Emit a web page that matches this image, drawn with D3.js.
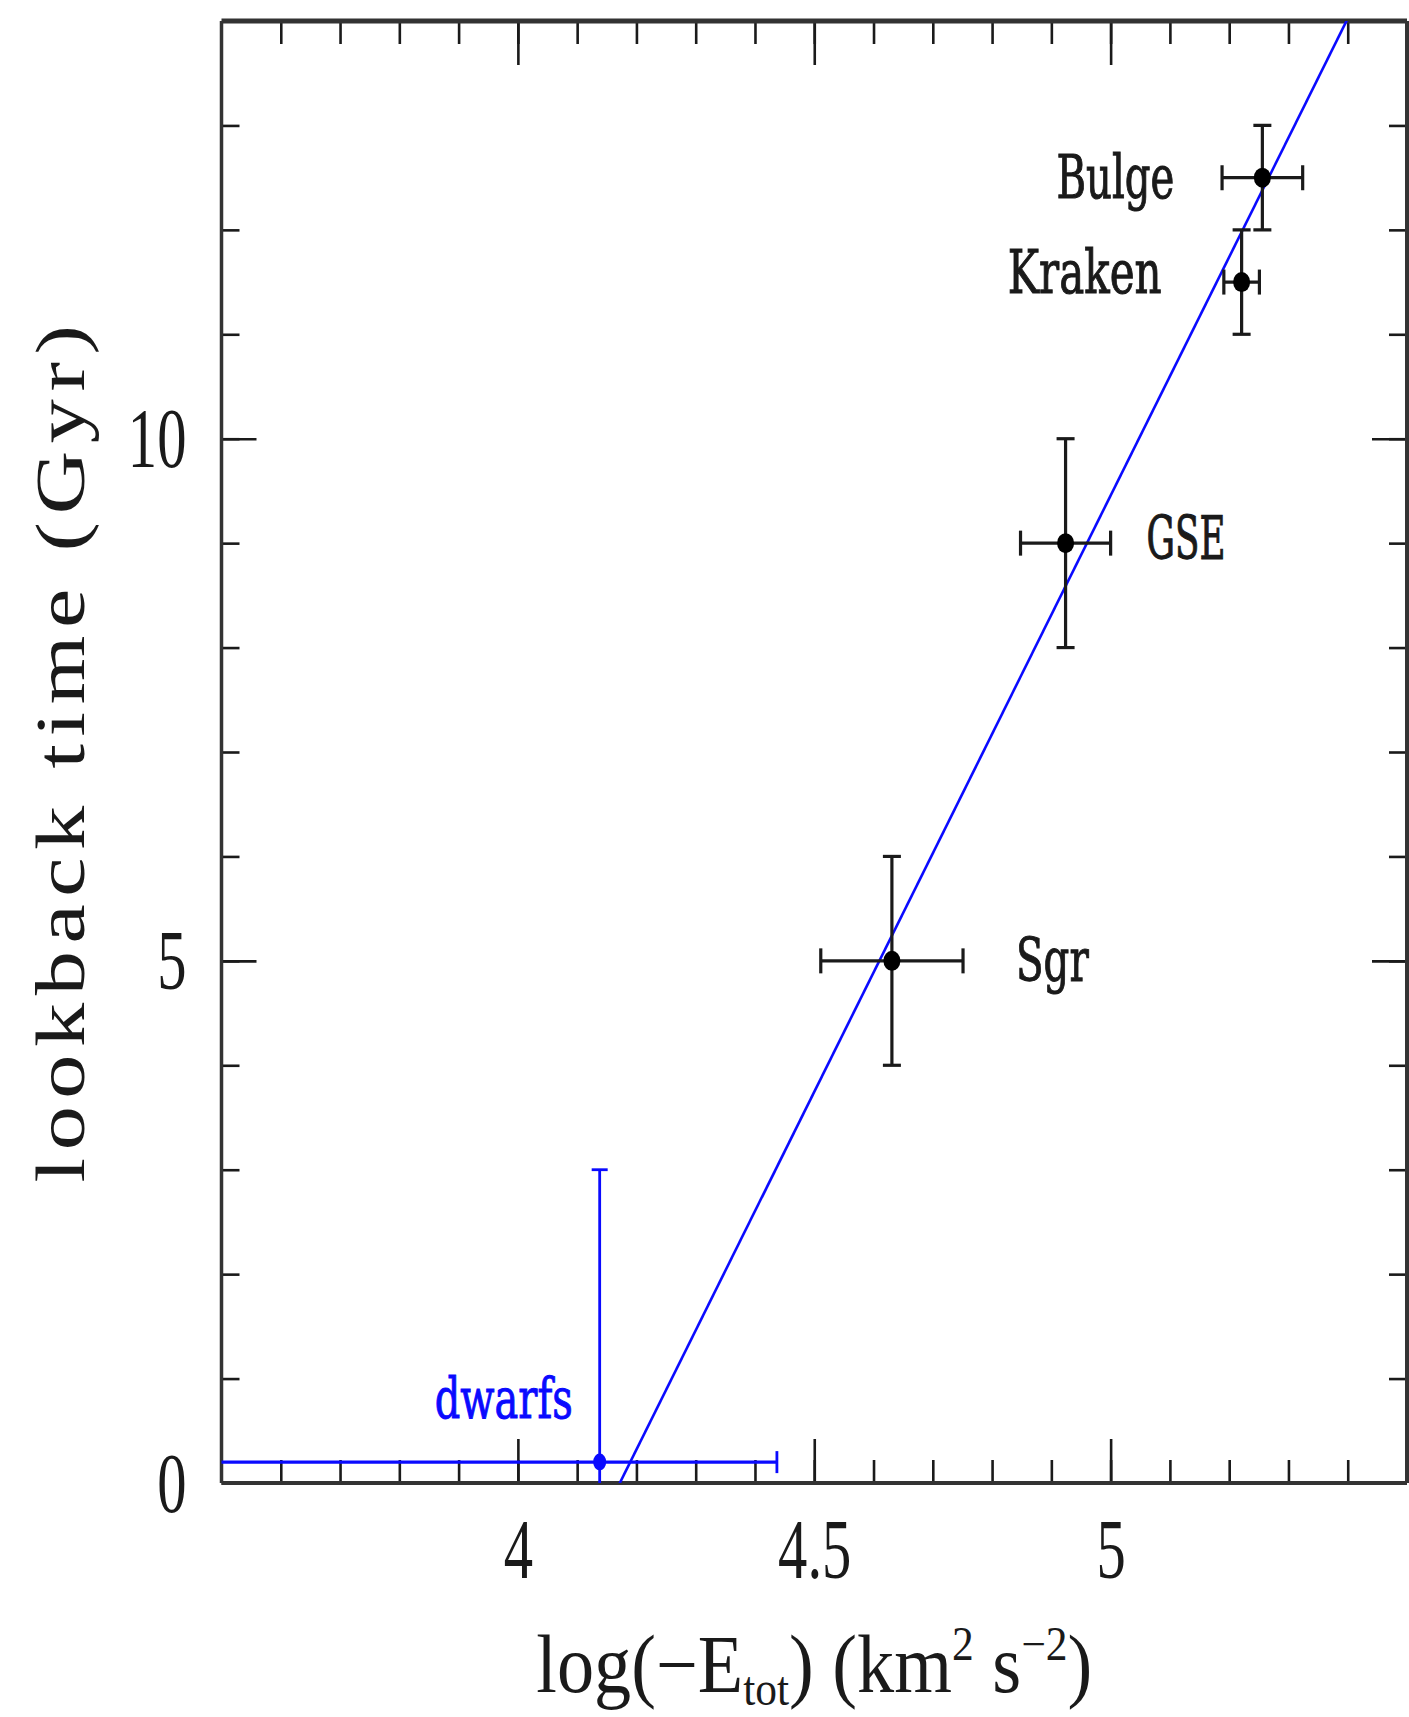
<!DOCTYPE html>
<html>
<head>
<meta charset="utf-8">
<script src="https://cdn.jsdelivr.net/npm/d3@7"></script>
<style>
  html, body { margin: 0; padding: 0; background: #fff; }
  svg { display: block; }
</style>
</head>
<body>
<svg id="chart" width="1409" height="1717"></svg>
<script>
// Accreted systems: orbital energy against lookback time of accretion
const systems      = ["Bulge", "Kraken", "GSE", "Sgr"];
const logEnergy    = [5.256, 5.221, 4.924, 4.631];
const logEnergyErr = [0.068, 0.030, 0.076, 0.120];
const lookback     = [12.5, 11.5, 9.0, 5.0];
const lookbackErr  = [0.5, 0.5, 1.0, 1.0];

// Present-day dwarf galaxies (asymmetric ranges)
const dwarfLabel         = "dwarfs";
const dwarfLogE          = 4.138;
const dwarfLogERange     = [3.30, 4.437];
const dwarfLookback      = 0.2;
const dwarfLookbackRange = [0.0, 3.0];

// Linear relation: lookback = slope * (logE - zeroPoint)
const fitSlope     = 11.42;
const fitZeroPoint = 4.172;

// Axis ticks
const xMajorTicks  = [4, 4.5, 5];
const xTickLabels  = ["4", "4.5", "5"];
const xMinorTicks  = d3.range(36, 55).map(v => v / 10);
const yMajorTicks  = [0, 5, 10];
const yTickLabels  = ["0", "5", "10"];
const yMinorTicks  = d3.range(1, 14);

const svg = d3.select("#chart");
const pL = 221.5, pR = 1407, pT = 21, pB = 1483;

const x = d3.scaleLinear().domain([3.5, 5.5]).range([pL, pR]);
const y = d3.scaleLinear().domain([0, 14]).range([pB, pT]);

const INK = "#1a1a1a";
const BLUE = "#0a0aff";
const tickFont = "'Liberation Serif', 'Times New Roman', serif";
const labelFont = "'DejaVu Serif', 'Liberation Serif', serif";

// horizontal squeeze of a text node so that it spans a given width
function fitTo(node, width) {
  const w = node.getBBox().width;
  if (w > 0) d3.select(node).attr("transform", `scale(${width / w},1)`);
}

svg.append("defs").append("clipPath").attr("id", "plot")
  .append("rect").attr("x", pL).attr("y", pT)
  .attr("width", pR - pL).attr("height", pB - pT);

// ---- ticks (inward on all four sides) ----
function styleAxis(g) {
  g.select(".domain").remove();
  g.selectAll(".tick line").attr("stroke", INK).attr("stroke-width", 2.6);
}

svg.append("g").attr("transform", `translate(0,${pB})`)
  .call(d3.axisBottom(x).tickValues(xMinorTicks).tickSize(-23).tickFormat(""))
  .call(styleAxis);
const xLab = svg.append("g").attr("transform", `translate(0,${pB})`)
  .call(d3.axisBottom(x).tickValues(xMajorTicks).tickSize(-44).tickPadding(0)
    .tickFormat((d, i) => xTickLabels[i]))
  .call(styleAxis);
xLab.selectAll(".tick text")
  .attr("y", 95).attr("dy", null)
  .attr("font-family", tickFont).attr("font-size", 85).attr("fill", INK)
  .attr("transform", "scale(0.69,1)");

svg.append("g").attr("transform", `translate(0,${pT})`)
  .call(d3.axisTop(x).tickValues(xMinorTicks).tickSize(-23).tickFormat(""))
  .call(styleAxis);
svg.append("g").attr("transform", `translate(0,${pT})`)
  .call(d3.axisTop(x).tickValues(xMajorTicks).tickSize(-44).tickFormat(""))
  .call(styleAxis);

svg.append("g").attr("transform", `translate(${pL},0)`)
  .call(d3.axisLeft(y).tickValues(yMinorTicks).tickSize(-18).tickFormat(""))
  .call(styleAxis);
const yLab = svg.append("g").attr("transform", `translate(${pL},0)`)
  .call(d3.axisLeft(y).tickValues(yMajorTicks).tickSize(-35).tickPadding(0)
    .tickFormat((d, i) => yTickLabels[i]))
  .call(styleAxis);
yLab.selectAll(".tick text")
  .attr("x", -35 / 0.69).attr("dy", null).attr("y", 28)
  .attr("text-anchor", "end")
  .attr("font-family", tickFont).attr("font-size", 85).attr("fill", INK)
  .attr("transform", "scale(0.69,1)");

svg.append("g").attr("transform", `translate(${pR},0)`)
  .call(d3.axisRight(y).tickValues(yMinorTicks).tickSize(-18).tickFormat(""))
  .call(styleAxis);
svg.append("g").attr("transform", `translate(${pR},0)`)
  .call(d3.axisRight(y).tickValues(yMajorTicks).tickSize(-35).tickFormat(""))
  .call(styleAxis);

// ---- frame ----
const frame = svg.append("g").attr("stroke", "#333").attr("fill", "none");
frame.append("line").attr("x1", pL).attr("x2", pR).attr("y1", pT).attr("y2", pT).attr("stroke-width", 5);
frame.append("line").attr("x1", pL).attr("x2", pR).attr("y1", pB).attr("y2", pB).attr("stroke-width", 4);
frame.append("line").attr("x1", pL).attr("x2", pL).attr("y1", pT).attr("y2", pB).attr("stroke-width", 3.5);
frame.append("line").attr("x1", pR).attr("x2", pR).attr("y1", pT).attr("y2", pB).attr("stroke-width", 4);

// ---- data layer ----
const plot = svg.append("g").attr("clip-path", "url(#plot)");

// linear relation
const fitX = [fitZeroPoint - 0.05, 5.5];
plot.append("path")
  .datum(fitX.map(v => [v, fitSlope * (v - fitZeroPoint)]))
  .attr("d", d3.line().x(d => x(d[0])).y(d => y(d[1])))
  .attr("fill", "none").attr("stroke", BLUE).attr("stroke-width", 2.6);

// accreted systems with error bars
const pts = systems.map((name, i) => ({
  name, x: logEnergy[i], xe: logEnergyErr[i], y: lookback[i], ye: lookbackErr[i]
}));
const capW = 9, capH = 12.5;
const eb = plot.append("g").attr("stroke", INK).attr("stroke-width", 3.2).attr("fill", "none");
pts.forEach(p => {
  const cx = x(p.x), cy = y(p.y);
  const x0 = x(p.x - p.xe), x1 = x(p.x + p.xe), y0 = y(p.y - p.ye), y1 = y(p.y + p.ye);
  eb.append("line").attr("x1", x0).attr("x2", x1).attr("y1", cy).attr("y2", cy);
  eb.append("line").attr("x1", cx).attr("x2", cx).attr("y1", y0).attr("y2", y1);
  eb.append("line").attr("x1", x0).attr("x2", x0).attr("y1", cy - capH).attr("y2", cy + capH);
  eb.append("line").attr("x1", x1).attr("x2", x1).attr("y1", cy - capH).attr("y2", cy + capH);
  eb.append("line").attr("x1", cx - capW).attr("x2", cx + capW).attr("y1", y0).attr("y2", y0);
  eb.append("line").attr("x1", cx - capW).attr("x2", cx + capW).attr("y1", y1).attr("y2", y1);
});
plot.append("g").selectAll("ellipse").data(pts).join("ellipse")
  .attr("cx", d => x(d.x)).attr("cy", d => y(d.y))
  .attr("rx", 8.5).attr("ry", 10).attr("fill", "#000");

// dwarfs
const dw = plot.append("g").attr("stroke", BLUE).attr("stroke-width", 2.8).attr("fill", "none");
const dcx = x(dwarfLogE), dcy = y(dwarfLookback);
dw.append("line").attr("x1", x(dwarfLogERange[0])).attr("x2", x(dwarfLogERange[1]))
  .attr("y1", dcy).attr("y2", dcy).attr("stroke-width", 3.4);
dw.append("line").attr("x1", dcx).attr("x2", dcx)
  .attr("y1", y(dwarfLookbackRange[0])).attr("y2", y(dwarfLookbackRange[1]));
dw.append("line").attr("x1", dcx - 8).attr("x2", dcx + 8)
  .attr("y1", y(dwarfLookbackRange[1])).attr("y2", y(dwarfLookbackRange[1]));
dw.append("line").attr("x1", x(dwarfLogERange[1])).attr("x2", x(dwarfLogERange[1]))
  .attr("y1", dcy - 11).attr("y2", dcy + 11);
plot.append("ellipse").attr("cx", dcx).attr("cy", dcy).attr("rx", 6.5).attr("ry", 8.5).attr("fill", BLUE);

// ---- point labels (offsets in px from each marker) ----
const labelLayout = {
  Bulge:  { dx: -88, dy: 20, anchor: "end",   w: 118 },
  Kraken: { dx: -80, dy: 11, anchor: "end",   w: 154 },
  GSE:    { dx: 81,  dy: 16, anchor: "start", w: 79 },
  Sgr:    { dx: 124, dy: 20, anchor: "start", w: 73 }
};
pts.forEach(p => {
  const L = labelLayout[p.name];
  const g = svg.append("g").attr("transform", `translate(${x(p.x) + L.dx},${y(p.y) + L.dy})`);
  const t = g.append("text").text(p.name)
    .attr("text-anchor", L.anchor)
    .attr("font-family", labelFont).attr("font-size", 60).attr("fill", INK)
    .attr("stroke", INK).attr("stroke-width", 1.1);
  fitTo(t.node(), L.w);
});
{
  const g = svg.append("g").attr("transform", `translate(${dcx - 27},${dcy - 44})`);
  const t = g.append("text").text(dwarfLabel)
    .attr("text-anchor", "end")
    .attr("font-family", labelFont).attr("font-size", 56).attr("fill", BLUE)
    .attr("stroke", BLUE).attr("stroke-width", 1);
  fitTo(t.node(), 138);
}

// ---- axis titles ----
{
  const g = svg.append("g").attr("transform", `translate(${(pL + pR) / 2},1692)`);
  const t = g.append("text").attr("text-anchor", "middle")
    .attr("font-family", tickFont).attr("font-size", 82).attr("fill", INK);
  t.append("tspan").text("log(\u2212E");
  t.append("tspan").text("tot").attr("font-size", 48).attr("dy", 13);
  t.append("tspan").text(") (km").attr("dy", -13);
  t.append("tspan").text("2").attr("font-size", 48).attr("dy", -32);
  t.append("tspan").text(" s").attr("dy", 32);
  t.append("tspan").text("\u22122").attr("font-size", 48).attr("dy", -32);
  t.append("tspan").text(")").attr("dy", 32);
  fitTo(t.node(), 556);
}
{
  const g = svg.append("g").attr("transform", `translate(84,${(pT + pB) / 2 - 2}) rotate(-90)`);
  const t = g.append("text").text("lookback time (Gyr)")
    .attr("text-anchor", "middle")
    .attr("font-family", tickFont).attr("font-size", 70)
    .attr("letter-spacing", 6).attr("fill", INK);
  fitTo(t.node(), 865);
}
</script>
</body>
</html>
